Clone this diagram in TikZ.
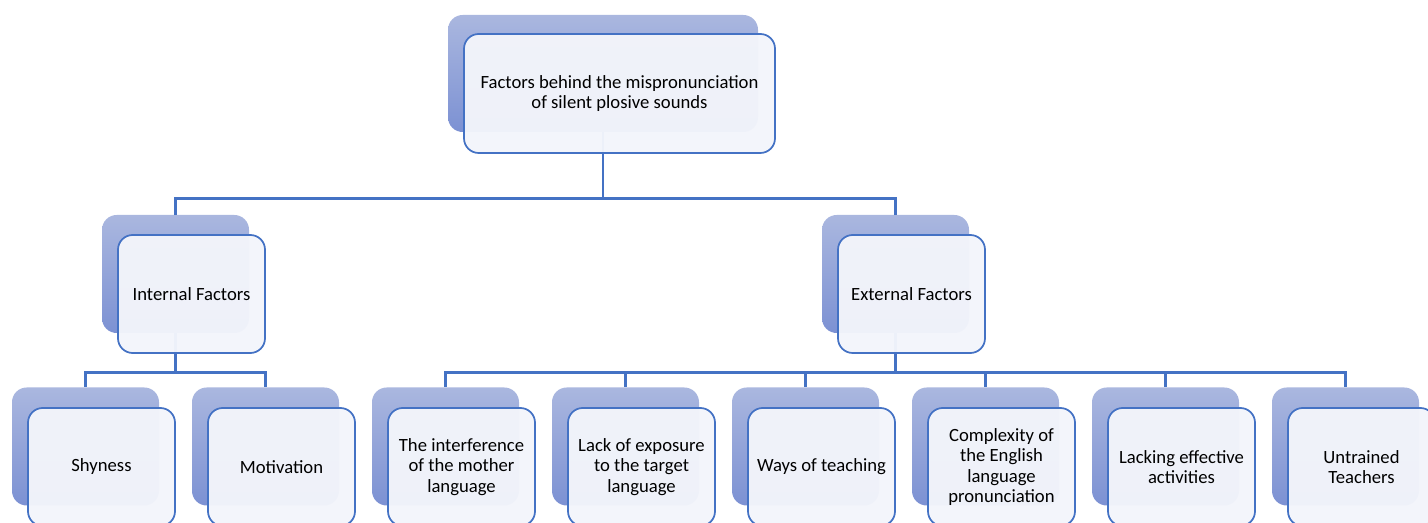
\documentclass[tikz,border=0pt]{standalone}
\usepackage{fontspec}
\setmainfont{Carlito}
\definecolor{lineblue}{RGB}{68,114,196}
\definecolor{backtop}{RGB}{170,183,223}
\definecolor{backbot}{RGB}{124,145,211}
\definecolor{frontfill}{RGB}{243,245,251}
\tikzset{
  backbox/.style={rounded corners=11pt, top color=backtop, bottom color=backbot, draw=none,
    minimum width=110.25pt, minimum height=88.5pt, inner sep=0pt},
  frontbox/.style={rounded corners=11pt, draw=lineblue, line width=1.3pt, fill=frontfill, fill opacity=0.965,
    text opacity=1, minimum width=110.25pt, minimum height=88.5pt, inner sep=0pt, align=center,
    font=\fontsize{14}{15.4}\selectfont},
  conn/.style={draw=lineblue, line width=1.9pt}
}
\begin{document}
\begin{tikzpicture}[x=0.75pt,y=-0.75pt]
\useasboundingbox (0,0) rectangle (1428,523);
% back boxes
\node[backbox, minimum width=232.5pt, minimum height=87.75pt] (rootB) at (603,73.5) {};
\node[backbox] (internalB) at (175.5,274) {};
\node[backbox] (externalB) at (895.5,274) {};
\foreach \i/\nm in {0/shy,1/motiv,2/mother,3/exposure,4/ways,5/complex,6/activ,7/untrained}{
  \node[backbox] (\nm B) at (85.5+180*\i,446.5) {};
}
% connectors
\draw[conn] (rootB.south) -- ++(0,66) -| (internalB.north);
\draw[conn] (rootB.south) -- ++(0,66) -| (externalB.north);
\foreach \nm in {shy,motiv}{
  \draw[conn] (internalB.south) -- ++(0,39) -| (\nm B.north);
}
\foreach \nm in {mother,exposure,ways,complex,activ,untrained}{
  \draw[conn] (externalB.south) -- ++(0,39) -| (\nm B.north);
}
% front boxes
\node[frontbox, minimum width=233.25pt, minimum height=89.25pt] (rootF) at (619.5,93.5) {Factors behind the mispronunciation\\of silent plosive sounds};
\node[frontbox] (internalF) at (191.5,294) {Internal Factors};
\node[frontbox] (externalF) at (911.5,294) {External Factors};
\node[frontbox] (shyF) at (101.5,467) {Shyness};
\node[frontbox] (motivF) at (281.5,467) {Motivation};
\node[frontbox] (motherF) at (461.5,467) {The interference\\of the mother\\language};
\node[frontbox] (exposureF) at (641.5,467) {Lack of exposure\\to the target\\language};
\node[frontbox] (waysF) at (821.5,467) {Ways of teaching};
\node[frontbox] (complexF) at (1001.5,467) {Complexity of\\the English\\language\\pronunciation};
\node[frontbox] (activF) at (1181.5,467) {Lacking effective\\activities};
\node[frontbox] (untrainedF) at (1361.5,467) {Untrained\\Teachers};
\end{tikzpicture}
\end{document}
